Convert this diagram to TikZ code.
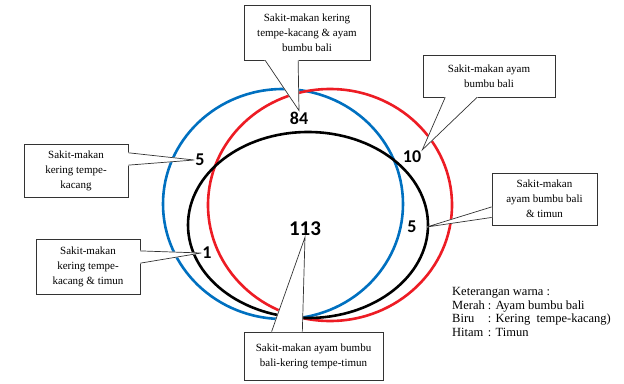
\documentclass[tikz,border=0pt]{standalone}
\usepackage{fontspec}
\setmainfont{Liberation Serif}
\newfontfamily\numfont{Carlito}
\usetikzlibrary{calc}
\definecolor{ringblue}{RGB}{0,112,192}
\definecolor{ringred}{RGB}{237,28,36}
% wedge of a callout: base points #1 and #2, tip #3
\newcommand\tagpointer[3]{%
  \filldraw[white, line width=0.8pt] (#1) -- (#3) -- (#2) -- cycle;
  \draw[tagline] (#1) -- (#3) -- (#2);
}

\begin{document}
\begin{tikzpicture}[x=1pt, y=-1pt,
  ring/.style={line width=2.6pt},
  tagline/.style={draw=black!80, line width=0.7pt, line join=miter},
  tag/.style={tagline, fill=white, inner sep=0pt, align=center,
    font=\rmfamily\fontsize{11}{15}\selectfont},
  count/.style={inner sep=1pt, font=\numfont\bfseries\fontsize{18}{18}\selectfont}]
  \useasboundingbox (0,0) rectangle (624,383);

  % the three rings
  \draw[ring, ringblue] (283,204) ellipse (120 and 115);
  \draw[ring, ringred] (330,205) ellipse (122 and 116);
  \draw[ring, black] (308,225) ellipse (120 and 93);

  % counts
  \node[count] (n84) at (299,118) {84};
  \node[count] (n10) at (412,157) {10};
  \node[count] (n5l) at (200,160) {5};
  \node[count] (n5r) at (412,227) {5};
  \node[count] (n1) at (207,253) {1};
  \node[count, font=\numfont\bfseries\fontsize{21}{21}\selectfont] (n113) at (305,229) {113};

  % callouts
  \node[tag, minimum width=126pt, minimum height=55pt] (T) at (307,32.5)
    {Sakit-makan kering\\tempe-kacang \& ayam\\bumbu bali};
  \tagpointer{$(T.south west)!0.17!(T.south east)$}{$(T.south west)!0.43!(T.south east)$}{n84.north}

  \node[tag, minimum width=132pt, minimum height=42pt] (R1) at (489,76)
    {Sakit-makan ayam\\bumbu bali};
  \tagpointer{$(R1.south west)!0.17!(R1.south east)$}{$(R1.south west)!0.41!(R1.south east)$}{n10.north east}

  \node[tag, minimum width=104pt, minimum height=53pt] (L1) at (76,170.5)
    {Sakit-makan\\kering tempe-\\kacang};
  \tagpointer{$(L1.north east)!0.17!(L1.south east)$}{$(L1.north east)!0.40!(L1.south east)$}{n5l.west}

  \node[tag, minimum width=105pt, minimum height=52pt] (R2) at (544.5,199)
    {Sakit-makan\\ayam bumbu bali\\\& timun};
  \tagpointer{$(R2.north west)!0.65!(R2.south west)$}{$(R2.north west)!0.85!(R2.south west)$}{[xshift=9pt]n5r.east}

  \node[tag, minimum width=104pt, minimum height=55pt] (L2) at (88,266.5)
    {Sakit-makan\\kering tempe-\\kacang \& timun};
  \tagpointer{$(L2.north east)!0.22!(L2.south east)$}{$(L2.north east)!0.44!(L2.south east)$}{n1.west}

  \node[tag, minimum width=139pt, minimum height=48pt] (B) at (313.5,356)
    {Sakit-makan ayam bumbu\\bali-kering tempe-timun};
  \tagpointer{$(B.north west)!0.20!(B.north east)$}{$(B.north west)!0.42!(B.north east)$}{n113.south}

  % legend
  \node[anchor=north west, inner sep=0pt, font=\rmfamily\fontsize{12.5}{13.5}\selectfont] (legend) at (452,286)
    {\begin{tabular}{@{}l@{\ }l@{}}
      \multicolumn{2}{@{}l@{}}{Keterangan warna :}\\
      Merah & : Ayam bumbu bali\\
      Biru & : Kering\ \ tempe-kacang)\\
      Hitam & : Timun
    \end{tabular}};
\end{tikzpicture}
\end{document}
